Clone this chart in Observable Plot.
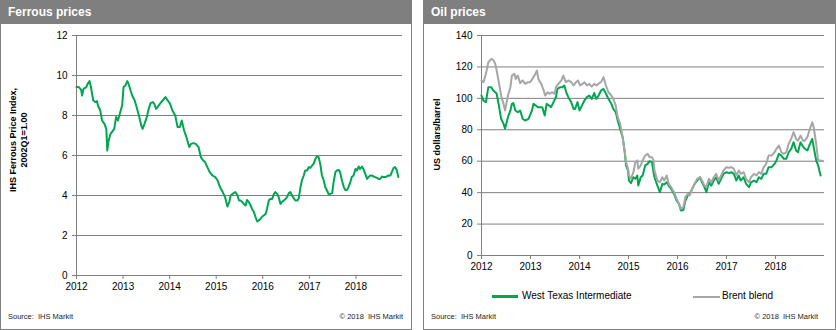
<!DOCTYPE html>
<html><head><meta charset="utf-8">
<script src="https://cdn.jsdelivr.net/npm/d3@7"></script>
<script src="https://cdn.jsdelivr.net/npm/@observablehq/plot@0.6"></script>
<style>
html,body{margin:0;padding:0;background:#fff;}
#root{position:relative;width:836px;height:330px;overflow:hidden;font-family:"Liberation Sans",Arial,sans-serif;color:#000;}
.panel{position:absolute;top:0;height:328px;border:1px solid #808080;}
.head{position:absolute;left:0;right:0;top:0;height:23px;background:#7f7f7f;color:#fff;font-weight:bold;font-size:12px;line-height:23px;padding-left:7px;}
.chart{position:absolute;top:24px;}
.chart svg{overflow:visible;}
.ytitle{position:absolute;font-size:9px;font-weight:bold;text-align:center;line-height:11px;transform:rotate(-90deg);white-space:nowrap;}
.src{position:absolute;font-size:7.5px;top:312px;line-height:10px;color:#222;}
.leg{position:absolute;font-size:10px;line-height:12px;top:290px;}
.sw{position:absolute;}
</style></head>
<body><div id="root">
<div class="panel" style="left:0;width:410px;"><div class="head">Ferrous prices</div></div>
<div class="panel" style="left:423px;width:411px;"><div class="head">Oil prices</div></div>
<div id="c1" class="chart" style="left:0;"></div>
<div id="c2" class="chart" style="left:423px;"></div>
<div class="ytitle" style="left:-61.5px;top:129px;width:160px;">IHS Ferrous Price Index,<br>2002Q1=1.00</div>
<div class="ytitle" style="left:357px;top:128.5px;width:160px;">US dollars/barrel</div>
<div class="sw" style="left:492px;top:295px;width:26px;height:3px;background:#00a651;"></div>
<div class="leg" style="left:522px;">West Texas Intermediate</div>
<div class="sw" style="left:693px;top:295.5px;width:27px;height:2px;background:#a6a6a6;"></div>
<div class="leg" style="left:722px;">Brent blend</div>
<div class="src" style="left:8px;">Source:&nbsp; IHS Markit</div>
<div class="src" style="left:303px;width:100px;text-align:right;">© 2018&nbsp; IHS Markit</div>
<div class="src" style="left:431px;">Source:&nbsp; IHS Markit</div>
<div class="src" style="left:718px;width:100px;text-align:right;">© 2018&nbsp; IHS Markit</div>
</div>
<script>
const yearTicks = [2012, 2013, 2014, 2015, 2016, 2017, 2018];
const ferrousYTicks = [0, 2, 4, 6, 8, 10, 12];
const oilYTicks = [0, 20, 40, 60, 80, 100, 120, 140];

// Ferrous price index (decimal year, value)
const ferrousT = [
2012.00,2012.05,2012.10,2012.12,2012.15,2012.21,2012.24,2012.28,2012.31,2012.36,
2012.41,2012.44,2012.46,2012.51,2012.55,2012.60,2012.64,2012.66,2012.69,2012.73,
2012.76,2012.81,2012.85,2012.89,2012.94,2012.98,2013.01,2013.05,2013.09,2013.12,
2013.16,2013.21,2013.25,2013.29,2013.34,2013.39,2013.42,2013.46,2013.51,2013.55,
2013.59,2013.64,2013.67,2013.71,2013.74,2013.79,2013.85,2013.91,2013.96,2014.01,
2014.06,2014.12,2014.17,2014.22,2014.26,2014.31,2014.36,2014.42,2014.46,2014.51,
2014.56,2014.62,2014.67,2014.72,2014.76,2014.81,2014.86,2014.92,2014.98,2015.03,
2015.08,2015.14,2015.19,2015.24,2015.28,2015.31,2015.35,
2015.41,2015.45,2015.49,2015.52,2015.56,2015.59,2015.63,2015.66,2015.70,2015.74,
2015.77,2015.81,2015.84,2015.88,2015.91,2015.95,2015.99,2016.02,2016.06,2016.09,
2016.13,2016.16,2016.20,2016.24,2016.27,2016.31,2016.34,2016.38,2016.41,2016.45,
2016.49,2016.52,2016.56,2016.59,2016.63,2016.66,2016.70,2016.74,2016.77,2016.81,
2016.84,2016.88,2016.91,2016.95,2016.99,2017.02,2017.06,2017.09,2017.13,2017.16,
2017.20,2017.24,2017.27,2017.31,2017.34,2017.38,2017.41,2017.45,2017.49,2017.52,
2017.56,2017.59,2017.63,2017.66,2017.70,2017.74,2017.77,2017.81,2017.84,2017.88,
2017.91,2017.95,2017.99,2018.02,2018.06,2018.09,2018.13,2018.16,2018.20,2018.24,
2018.27,2018.31,2018.34,2018.38,2018.41,2018.45,2018.49,2018.52,2018.56,2018.59,
2018.63,2018.66,2018.70,2018.74,2018.77,2018.81,2018.84,2018.88,2018.91];
const ferrousV = [
9.42,9.42,9.28,9.00,9.33,9.42,9.58,9.72,9.42,8.75,
8.67,8.72,8.50,8.25,7.75,7.58,7.33,6.25,6.75,7.08,
7.17,7.33,7.92,7.75,8.17,8.50,9.42,9.50,9.72,9.58,
9.25,8.92,8.75,8.42,8.00,7.50,7.33,7.58,7.92,8.33,
8.62,8.67,8.58,8.33,8.42,8.58,8.75,8.92,8.75,8.58,
8.25,8.00,7.42,7.42,7.75,7.25,6.92,6.42,6.58,6.62,
6.58,6.42,5.92,5.75,5.67,5.42,5.17,5.00,4.92,4.75,
4.42,4.17,3.92,3.45,3.67,4.00,4.08,
4.17,4.05,3.75,3.75,3.67,3.58,3.50,3.78,3.67,3.50,
3.33,3.17,2.95,2.70,2.75,2.83,2.95,3.00,3.08,3.33,
3.75,3.83,3.83,4.08,4.17,4.08,3.92,3.58,3.67,3.75,
3.83,3.92,4.12,4.17,4.00,3.88,3.75,3.75,3.83,4.42,
4.75,5.00,5.25,5.25,5.42,5.38,5.50,5.58,5.83,5.95,
5.92,5.50,5.00,4.75,4.42,4.25,4.08,4.08,4.12,4.67,
5.17,5.25,5.28,5.17,4.75,4.42,4.28,4.28,4.42,4.67,
4.92,5.00,5.33,5.25,5.45,5.33,5.45,5.33,5.08,4.83,
4.92,5.00,5.00,4.95,4.92,4.88,4.83,4.83,4.95,4.92,
4.92,4.95,5.00,5.00,5.17,5.38,5.42,5.25,4.92];

// West Texas Intermediate, US$/barrel
const wtiT = [
2012.00,2012.04,2012.09,2012.14,2012.20,2012.24,2012.28,2012.31,2012.36,2012.40,
2012.45,2012.48,2012.54,2012.59,2012.62,2012.65,2012.69,2012.74,2012.79,2012.84,
2012.89,2012.96,2013.03,2013.06,2013.11,2013.15,2013.20,2013.24,2013.29,2013.33,
2013.38,2013.42,2013.47,2013.52,2013.55,2013.61,2013.65,2013.69,2013.74,2013.79,
2013.83,2013.88,2013.91,2013.96,2014.00,2014.05,2014.10,2014.15,2014.20,2014.25,
2014.30,2014.34,2014.39,2014.44,2014.49,2014.54,2014.59,2014.65,2014.69,2014.74,
2014.78,2014.83,2014.88,2014.92,2014.95,2014.99,2015.01,2015.05,2015.10,2015.14,
2015.18,2015.20,2015.25,2015.29,2015.34,2015.39,2015.43,2015.48,2015.51,
2015.53,2015.59,2015.64,2015.69,2015.73,2015.78,2015.82,2015.87,2015.93,2015.98,
2016.03,2016.07,2016.12,2016.16,2016.21,2016.25,2016.30,2016.35,2016.40,2016.46,
2016.50,2016.55,2016.59,2016.64,2016.69,2016.74,2016.79,2016.84,2016.89,2016.94,
2017.00,2017.05,2017.10,2017.15,2017.20,2017.25,2017.29,2017.35,2017.40,2017.46,
2017.50,2017.56,2017.61,2017.66,2017.71,2017.76,2017.81,2017.86,2017.92,2017.98,
2018.02,2018.07,2018.12,2018.17,2018.22,2018.27,2018.32,2018.37,2018.42,2018.46,
2018.51,2018.56,2018.60,2018.65,2018.69,2018.75,2018.78,2018.83,2018.87,2018.92];
const wtiV = [
101.8,98.6,97.6,107.1,107.1,105.0,103.9,102.9,94.4,87.0,
83.8,80.6,88.0,92.3,96.5,97.0,92.3,91.2,92.3,87.0,
85.9,87.0,92.3,96.5,95.4,94.4,94.4,94.4,89.1,96.5,
95.4,94.4,97.6,100.8,106.0,107.1,107.1,108.2,102.9,99.7,
97.6,93.3,93.3,97.6,92.3,95.4,98.6,100.8,101.8,99.7,
103.4,99.7,101.8,105.0,106.0,102.9,99.7,96.5,93.3,91.2,
85.9,80.6,75.3,66.8,57.3,54.1,47.7,46.0,49.8,48.8,
50.9,44.5,49.8,50.9,57.3,58.3,60.0,59.4,53.0,
49.8,44.5,40.3,45.6,45.2,46.6,44.5,42.4,39.2,35.0,
32.9,28.6,29.0,35.0,38.2,39.2,42.4,45.6,47.7,49.8,
46.6,43.5,40.3,46.6,44.5,47.7,49.8,45.6,48.8,52.0,
53.0,52.4,53.0,52.0,47.7,50.9,47.7,49.8,45.6,43.5,
46.6,47.7,46.6,49.8,48.8,52.0,52.0,56.2,56.2,58.3,
60.5,64.7,63.6,61.5,61.5,65.7,67.9,72.1,66.8,65.7,
72.1,69.4,67.9,66.8,70.0,74.2,68.9,60.5,57.3,50.9];

// Brent blend, US$/barrel
const brentT = [
2012.00,2012.04,2012.09,2012.14,2012.20,2012.24,2012.28,2012.31,2012.36,2012.40,
2012.45,2012.48,2012.54,2012.59,2012.62,2012.67,2012.70,2012.74,2012.79,2012.84,
2012.89,2012.95,2012.99,2013.04,2013.10,2013.13,2013.16,2013.22,2013.27,2013.30,
2013.35,2013.39,2013.44,2013.49,2013.52,2013.57,2013.63,2013.67,2013.72,2013.78,
2013.83,2013.88,2013.93,2013.97,2014.01,2014.06,2014.10,2014.15,2014.20,2014.25,
2014.30,2014.35,2014.40,2014.44,2014.49,2014.54,2014.59,2014.65,2014.69,2014.74,
2014.78,2014.83,2014.88,2014.92,2014.95,2014.99,2015.01,2015.05,2015.10,2015.14,
2015.18,2015.20,2015.25,2015.29,2015.34,2015.39,2015.43,2015.48,2015.51,
2015.53,2015.59,2015.64,2015.69,2015.73,2015.78,2015.82,2015.87,2015.93,2015.98,
2016.03,2016.07,2016.12,2016.16,2016.21,2016.25,2016.30,2016.35,2016.40,2016.46,
2016.50,2016.55,2016.59,2016.64,2016.69,2016.74,2016.79,2016.84,2016.89,2016.94,
2017.00,2017.05,2017.10,2017.15,2017.20,2017.25,2017.29,2017.35,2017.40,2017.46,
2017.50,2017.56,2017.61,2017.66,2017.71,2017.76,2017.81,2017.86,2017.92,2017.98,
2018.02,2018.07,2018.12,2018.17,2018.22,2018.27,2018.32,2018.37,2018.42,2018.46,
2018.51,2018.56,2018.60,2018.65,2018.69,2018.75,2018.78,2018.83,2018.87,2018.92,2018.97];
const brentV = [
111.4,110.3,115.6,123.0,125.1,124.5,122.0,117.7,109.2,101.8,
96.5,92.3,101.8,107.1,114.5,115.6,112.4,114.5,109.7,111.4,
109.2,110.3,110.3,112.4,115.6,117.7,112.4,109.2,105.0,101.8,
103.9,102.9,103.9,102.9,107.1,109.2,111.4,114.5,110.3,111.4,
110.3,108.2,110.3,111.4,108.2,109.2,110.3,108.2,109.2,107.5,
109.2,108.2,109.7,110.3,113.5,108.2,103.9,101.8,99.7,95.4,
88.0,83.8,75.3,66.8,59.4,55.2,50.9,48.8,53.0,59.4,
60.5,55.2,57.3,60.5,63.6,64.7,62.6,62.6,60.5,
54.1,47.7,46.6,49.8,47.7,50.9,45.6,43.5,40.3,36.1,
32.9,29.7,30.8,37.1,39.2,38.2,42.4,45.6,48.8,49.8,
47.7,44.5,43.5,48.8,46.6,49.8,52.0,47.7,50.9,54.1,
56.2,55.8,56.2,55.2,50.9,54.1,52.0,53.0,48.8,46.6,
49.8,52.0,50.9,53.0,52.0,56.2,58.3,63.6,63.6,65.7,
67.9,70.0,65.7,64.7,65.7,71.1,74.2,78.5,74.2,73.1,
76.3,73.1,73.1,75.3,79.5,84.8,81.6,71.1,60.5,60.5,60.0];

const GREEN = "#00a651", GREY = "#a6a6a6", AX = "#7f7f7f";
const style = {fontFamily: "Liberation Sans, Arial, sans-serif", fontSize: "10px", color: "#000", background: "transparent", overflow: "visible"};

const ferrousData = ferrousT.map((t, i) => ({t, v: ferrousV[i]}));
const wtiData = wtiT.map((t, i) => ({t, v: wtiV[i]}));
const brentData = brentT.map((t, i) => ({t, v: brentV[i]}));

const left = Plot.plot({
  width: 411, height: 270,
  marginLeft: 76, marginRight: 9, marginTop: 11, marginBottom: 19,
  style,
  x: {type: "linear", domain: [2012, 2019]},
  y: {domain: [0, 12]},
  marks: [
    Plot.gridY(ferrousYTicks, {stroke: AX, strokeOpacity: 1}),
    Plot.ruleX([2012], {stroke: AX}),
    Plot.axisY(ferrousYTicks, {tickSize: 4, tickPadding: 5, stroke: AX, label: null, tickFormat: d => String(d)}),
    Plot.axisX(yearTicks, {tickSize: 4, tickPadding: 3, stroke: AX, label: null, tickFormat: d => String(d)}),
    Plot.line(ferrousData, {x: "t", y: "v", stroke: GREEN, strokeWidth: 2})
  ]
});
document.getElementById("c1").append(left);

const right = Plot.plot({
  width: 412, height: 260,
  marginLeft: 58, marginRight: 11, marginTop: 11, marginBottom: 29,
  style,
  x: {type: "linear", domain: [2012, 2019]},
  y: {domain: [0, 140]},
  marks: [
    Plot.gridY(oilYTicks, {stroke: AX, strokeOpacity: 1}),
    Plot.ruleX([2012], {stroke: AX}),
    Plot.axisY(oilYTicks, {tickSize: 4, tickPadding: 5, stroke: AX, label: null, tickFormat: d => String(d)}),
    Plot.axisX(yearTicks, {tickSize: 4, tickPadding: 3, stroke: AX, label: null, tickFormat: d => String(d)}),
    Plot.line(wtiData, {x: "t", y: "v", stroke: GREEN, strokeWidth: 2}),
    Plot.line(brentData, {x: "t", y: "v", stroke: GREY, strokeWidth: 2})
  ]
});
document.getElementById("c2").append(right);
</script>
</body></html>
